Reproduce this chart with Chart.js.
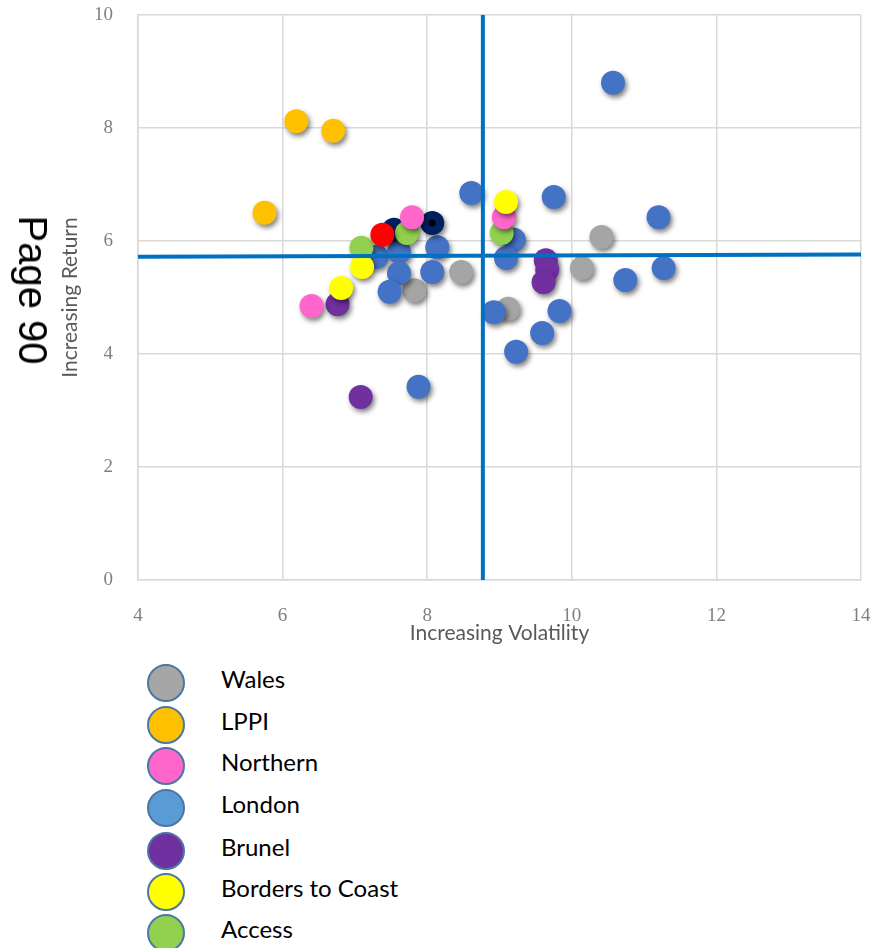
<!DOCTYPE html>
<html>
<head>
<meta charset="utf-8">
<script src="https://cdn.jsdelivr.net/npm/chart.js@4/dist/chart.umd.min.js"></script>
<style>
  html, body { margin: 0; padding: 0; background: #ffffff; }
  #wrap { position: relative; width: 873px; height: 948px; overflow: hidden; }
  #chart { position: absolute; left: 0; top: 0; }
  #page-no {
    position: absolute; left: 33px; top: 290px;
    transform: translate(-50%, -50%) rotate(90deg);
    font-family: "Liberation Sans", Arial, sans-serif; font-size: 40px;
    color: #000; white-space: nowrap; line-height: 1;
  }
  #key { position: absolute; left: 0; top: 0; }
  .key-row { position: absolute; left: 0; height: 40px; width: 420px; }
  .key-dot {
    position: absolute; left: 147px; top: 0; width: 34px; height: 34px;
    border-radius: 50%; border: 2px solid #4A77A3; box-sizing: content-box;
  }
  .key-label {
    position: absolute; left: 221px; top: 0;
    font-family: Lato, "Open Sans", sans-serif; font-size: 24px; color: #000;
    line-height: 32px; white-space: nowrap;
  }
</style>
</head>
<body>
<div id="wrap">
  <canvas id="chart" width="873" height="650"></canvas>
  <div id="page-no">Page 90</div>
  <div id="key"></div>
</div>
<script>
// Pool names, legend colours and plot colours
const poolNames = ['Wales', 'LPPI', 'Northern', 'London', 'Brunel', 'Borders to Coast', 'Access'];
const keyColours = ['#A6A6A6', '#FFC000', '#FF66CC', '#5B9BD5', '#7030A0', '#FFFF00', '#92D050'];
const plotColours = ['#A5A5A5', '#FFC000', '#FF66CC', '#4472C4', '#7030A0', '#FFFF00', '#92D050'];

// Volatility (x) and return (y) for each fund, grouped by pool
const walesVol = [8.47, 7.82, 9.12, 10.41, 10.14];
const walesRet = [5.45, 5.13, 4.80, 6.07, 5.52];

const lppiVol = [5.75, 6.19, 6.70];
const lppiRet = [6.50, 8.12, 7.95];

const northernVol = [7.79, 6.40, 9.06];
const northernRet = [6.42, 4.85, 6.42];

const londonVol = [10.57, 8.61, 9.75, 11.20, 9.20, 9.09, 7.30, 7.61, 8.14, 7.61, 8.07, 7.48, 8.92, 9.83, 9.59, 9.23, 7.88, 10.74, 11.27];
const londonRet = [8.80, 6.85, 6.78, 6.42, 6.02, 5.70, 5.72, 5.81, 5.89, 5.43, 5.45, 5.10, 4.74, 4.76, 4.37, 4.04, 3.42, 5.31, 5.52];

const brunelVol = [6.76, 7.08, 9.64, 9.66, 9.61];
const brunelRet = [4.88, 3.24, 5.66, 5.49, 5.27];

const bordersVol = [7.10, 6.81, 9.09];
const bordersRet = [5.54, 5.17, 6.69];

const accessVol = [7.09, 7.72, 9.03];
const accessRet = [5.88, 6.14, 6.14];

// Highlighted funds
const navyVol = [7.54, 8.07];
const navyRet = [6.20, 6.32];
const markedVol = [8.07];
const markedRet = [6.32];
const redVol = [7.38];
const redRet = [6.11];

// Median cross-hairs
const medianRetVol = [4, 14];
const medianRetLevel = [5.72, 5.76];
const medianVolLevel = [8.77, 8.77];
const medianVolRet = [0, 10];

// Axis ticks
const volTicks = [4, 6, 8, 10, 12, 14];
const retTicks = [0, 2, 4, 6, 8, 10];

const pairs = (xs, ys) => xs.map((x, i) => ({ x: x, y: ys[i] }));

function pointSet(label, xs, ys, colour, order, extra) {
  return Object.assign({
    type: 'scatter',
    label: label,
    data: pairs(xs, ys),
    backgroundColor: colour,
    borderColor: colour,
    borderWidth: 0,
    pointRadius: 12,
    pointHoverRadius: 12,
    order: order,
    shadow: true
  }, extra || {});
}

function lineSet(label, xs, ys) {
  return {
    type: 'line',
    label: label,
    data: pairs(xs, ys),
    borderColor: '#0070C0',
    borderWidth: 4,
    pointRadius: 0,
    fill: false,
    tension: 0,
    order: 0,
    shadow: false
  };
}

// Lower order sits on top
const datasets = [
  lineSet('Median return', medianRetVol, medianRetLevel),
  lineSet('Median volatility', medianVolLevel, medianVolRet),
  pointSet('Fund', redVol, redRet, '#FF0000', 1),
  pointSet('Fund marker', markedVol, markedRet, '#000000', 2, { pointRadius: 3.5, pointHoverRadius: 3.5, shadow: false }),
  pointSet(poolNames[5], bordersVol, bordersRet, plotColours[5], 3),
  pointSet(poolNames[2], northernVol, northernRet, plotColours[2], 4),
  pointSet(poolNames[6], accessVol, accessRet, plotColours[6], 5),
  pointSet('Fund', navyVol, navyRet, '#002060', 6),
  pointSet(poolNames[4], brunelVol, brunelRet, plotColours[4], 7),
  pointSet(poolNames[3], londonVol, londonRet, plotColours[3], 8),
  pointSet(poolNames[1], lppiVol, lppiRet, plotColours[1], 9),
  pointSet(poolNames[0], walesVol, walesRet, plotColours[0], 10)
];

// Soft drop shadow under each fund marker
const markerShadow = {
  id: 'markerShadow',
  beforeDatasetDraw(chart, args) {
    if (!chart.data.datasets[args.index].shadow) return;
    const ctx = chart.ctx;
    ctx.save();
    ctx.shadowColor = 'rgba(0, 0, 0, 0.5)';
    ctx.shadowBlur = 5;
    ctx.shadowOffsetX = 2;
    ctx.shadowOffsetY = 3;
  },
  afterDatasetDraw(chart, args) {
    if (!chart.data.datasets[args.index].shadow) return;
    chart.ctx.restore();
  }
};

const gridColour = '#D9D9D9';
const tickFont = { family: '"Liberation Serif", "DejaVu Serif", serif', size: 19 };
const titleFont = { family: 'Lato, "Open Sans", sans-serif', size: 21 };

new Chart(document.getElementById('chart'), {
  type: 'scatter',
  data: { datasets: datasets },
  plugins: [markerShadow],
  options: {
    responsive: false,
    animation: false,
    devicePixelRatio: 1,
    layout: { padding: { left: 0, right: 10, top: 15, bottom: 0 } },
    plugins: { legend: { display: false }, tooltip: { enabled: false } },
    scales: {
      x: {
        type: 'linear',
        min: 4, max: 14,
        afterBuildTicks: (scale) => { scale.ticks = volTicks.map(v => ({ value: v })); },
        afterFit: (scale) => {
          scale.height = 70;
          scale.paddingLeft = 0;
          scale.paddingRight = 0;
        },
        grid: { color: gridColour, lineWidth: 1.5, drawTicks: false },
        border: { color: gridColour, width: 1.5 },
        ticks: { color: '#7F7F7F', font: tickFont, padding: 25, maxRotation: 0 },
        title: { display: true, text: 'Increasing Volatility', color: '#595959', font: titleFont, padding: { top: 0, bottom: 4 } }
      },
      y: {
        type: 'linear',
        min: 0, max: 10,
        afterBuildTicks: (scale) => { scale.ticks = retTicks.map(v => ({ value: v })); },
        afterFit: (scale) => {
          scale.width = 138;
          scale.paddingTop = 0;
          scale.paddingBottom = 0;
        },
        grid: { color: gridColour, lineWidth: 1.5, drawTicks: false },
        border: { color: gridColour, width: 1.5 },
        ticks: { color: '#7F7F7F', font: tickFont, padding: 25 },
        title: { display: true, text: 'Increasing Return', color: '#595959', font: titleFont, padding: { top: 58, bottom: 0 } }
      }
    }
  }
});

// Pool key beneath the chart
const keyTops = [664, 706, 747, 789, 832, 873, 914];
const key = document.getElementById('key');
poolNames.forEach((name, i) => {
  const row = document.createElement('div');
  row.className = 'key-row';
  row.style.top = keyTops[i] + 'px';
  const dot = document.createElement('div');
  dot.className = 'key-dot';
  dot.style.background = keyColours[i];
  const label = document.createElement('div');
  label.className = 'key-label';
  label.style.top = '-1px';
  label.textContent = name;
  row.appendChild(dot);
  row.appendChild(label);
  key.appendChild(row);
});
</script>
</body>
</html>
